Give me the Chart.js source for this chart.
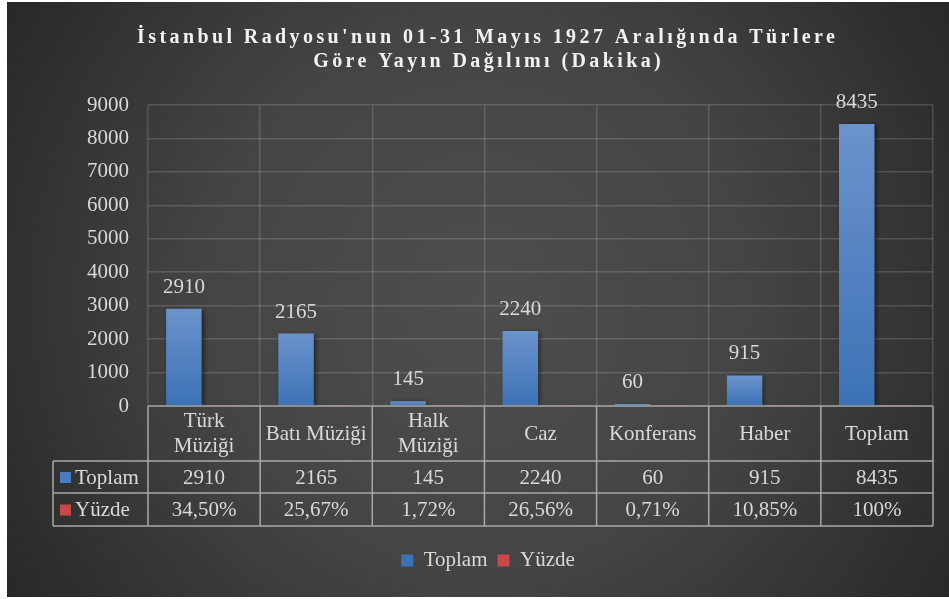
<!DOCTYPE html>
<html><head><meta charset="utf-8">
<script src="https://cdn.jsdelivr.net/npm/chart.js@4.4.1/dist/chart.umd.min.js"></script>
<style>html,body{margin:0;padding:0;background:#fff;overflow:hidden}</style>
</head><body>
<canvas id="c" width="949" height="599"></canvas>
<script>
const titleLines = ["İstanbul Radyosu'nun 01-31 Mayıs 1927 Aralığında Türlere", "Göre Yayın Dağılımı (Dakika)"];
const categories = [["Türk","Müziği"],["Batı Müziği"],["Halk","Müziği"],["Caz"],["Konferans"],["Haber"],["Toplam"]];
const seriesNames = ["Toplam","Yüzde"];
const toplam = [2910, 2165, 145, 2240, 60, 915, 8435];
const yuzde = [0.3450, 0.2567, 0.0172, 0.2656, 0.0071, 0.1085, 1.00];
const yMin = 0, yMax = 9000, yStep = 1000;

const TEXT = '#d9d9d9';
const FONT = '"Liberation Serif", "Times New Roman", serif';
const FS = 21;
const BLUE = '#4a7cbf', RED = '#c9484a';

function fmtPct(v){
  const p = Math.round(v*10000)/100;
  const s = Number.isInteger(p) ? String(p) : p.toFixed(2);
  return s.replace('.', ',') + '%';
}
function fmtNum(v){ return String(v); }

function barGrad(ctx, base, topCol, botCol){
  if (ctx.type !== 'data') return base;
  const chart = ctx.chart, ys = chart.scales.y;
  if (!ys || !chart.chartArea) return base;
  const t = ys.getPixelForValue(ctx.raw), b = ys.getPixelForValue(0);
  if (!isFinite(t) || Math.abs(b-t) < 1) return base;
  const g = chart.ctx.createLinearGradient(0, t, 0, b);
  g.addColorStop(0, topCol); g.addColorStop(1, botCol);
  return g;
}

const bgPlugin = {
  id: 'bg',
  beforeDraw(chart){
    const c = chart.ctx;
    c.save();
    c.fillStyle = '#ffffff';
    c.fillRect(0,0,chart.width,chart.height);
    const g = c.createRadialGradient(480, 300, 0, 480, 300, 620);
    g.addColorStop(0, '#4e4e4e');
    g.addColorStop(0.45, '#444444');
    g.addColorStop(0.8, '#2e2e2e');
    g.addColorStop(1, '#222222');
    c.fillStyle = g;
    c.fillRect(7, 2, 942, 595);
    c.restore();
  }
};

const shadowPlugin = {
  id: 'shadow',
  beforeDatasetsDraw(chart){
    const c = chart.ctx; c.save();
    c.shadowColor = 'rgba(0,0,0,0.55)'; c.shadowBlur = 5; c.shadowOffsetX = 2; c.shadowOffsetY = 1;
  },
  afterDatasetsDraw(chart){ chart.ctx.restore(); }
};

const tablePlugin = {
  id: 'table',
  afterDraw(chart){
    const c = chart.ctx, a = chart.chartArea, xs = chart.scales.x;
    const n = categories.length;
    const w = (a.right - a.left)/n;
    const top = a.bottom, r1 = top + 55, r2 = r1 + 32, r3 = r2 + 33;
    const hdrLeft = 53;
    c.save();
    // data labels above bars
    c.font = FS + 'px ' + FONT; c.fillStyle = TEXT; c.textAlign = 'center'; c.textBaseline = 'alphabetic';
    const meta = chart.getDatasetMeta(0);
    meta.data.forEach((bar, i) => { c.fillText(fmtNum(toplam[i]), bar.x, bar.y - 16); });
    // table lines
    c.strokeStyle = '#a8a8a8'; c.lineWidth = 1.5;
    c.beginPath();
    c.moveTo(a.left, top); c.lineTo(a.right, top);
    c.moveTo(hdrLeft, r1); c.lineTo(a.right, r1);
    c.moveTo(hdrLeft, r2); c.lineTo(a.right, r2);
    c.moveTo(hdrLeft, r3); c.lineTo(a.right, r3);
    c.moveTo(hdrLeft, r1); c.lineTo(hdrLeft, r3);
    for (let i = 0; i <= n; i++) { const x = a.left + i*w; c.moveTo(x, top); c.lineTo(x, r3); }
    c.stroke();
    // category names and values
    c.textBaseline = 'middle';
    categories.forEach((lab, i) => {
      const cx = xs.getPixelForValue(i);
      if (lab.length === 1) c.fillText(lab[0], cx, (top + r1)/2 + 1);
      else { c.fillText(lab[0], cx, top + 15); c.fillText(lab[1], cx, top + 40); }
      c.fillText(fmtNum(toplam[i]), cx, (r1 + r2)/2 + 1);
      c.fillText(fmtPct(yuzde[i]), cx, (r2 + r3)/2 + 1);
    });
    // row headers
    c.textAlign = 'left';
    [[seriesNames[0], BLUE, (r1+r2)/2], [seriesNames[1], RED, (r2+r3)/2]].forEach(([t, col, cy]) => {
      c.fillStyle = col; c.fillRect(60, cy - 5, 11, 11);
      c.fillStyle = TEXT; c.fillText(t, 75, cy + 1);
    });
    // title
    c.fillStyle = '#f2f2f2'; c.font = 'bold 20px ' + FONT; c.textAlign = 'center';
    const ls = 3.4; c.letterSpacing = ls + 'px';
    c.fillText(titleLines[0], 486 + ls/2, 38);
    c.fillText(titleLines[1], 487 + ls/2, 62);
    c.restore();
  }
};

function build(){
  new Chart(document.getElementById('c'), {
    type: 'bar',
    data: {
      labels: categories,
      datasets: [
        { label: seriesNames[0], data: toplam,
          backgroundColor: ctx => barGrad(ctx, BLUE, '#6b93cb', '#3c72b6') },
        { label: seriesNames[1], data: yuzde,
          backgroundColor: ctx => barGrad(ctx, RED, '#d96060', '#b73b3b') }
      ]
    },
    options: {
      responsive: false, animation: false, devicePixelRatio: 1,
      categoryPercentage: 0.72, barPercentage: 0.88,
      layout: { padding: { left: 43, right: 16, top: 105, bottom: 18 } },
      scales: {
        x: {
          grid: { color: 'rgba(255,255,255,0.15)', lineWidth: 1.5, offset: true, drawTicks: false },
          border: { display: false },
          ticks: { display: false },
          afterFit(s){ s.height = 134; }
        },
        y: {
          min: yMin, max: yMax,
          grid: { color: ctx => ctx.tick && ctx.tick.value === 0 ? 'rgba(0,0,0,0)' : 'rgba(255,255,255,0.15)', lineWidth: 1.5, drawTicks: false },
          border: { display: false },
          ticks: { stepSize: yStep, color: TEXT, font: { family: FONT, size: FS }, padding: 19, callback: v => String(v) },
          afterFit(s){ s.width = 105; }
        }
      },
      plugins: {
        title: { display: false },
        tooltip: { enabled: false },
        legend: {
          position: 'bottom',
          labels: { color: TEXT, font: { family: FONT, size: FS }, boxWidth: 12, boxHeight: 12, padding: 10 }
        }
      }
    },
    plugins: [bgPlugin, shadowPlugin, tablePlugin]
  });
}
if (document.fonts && document.fonts.load) {
  Promise.all([document.fonts.load('21px "Liberation Serif"'), document.fonts.load('bold 20px "Liberation Serif"')]).then(build, build);
} else build();
</script>
</body></html>
